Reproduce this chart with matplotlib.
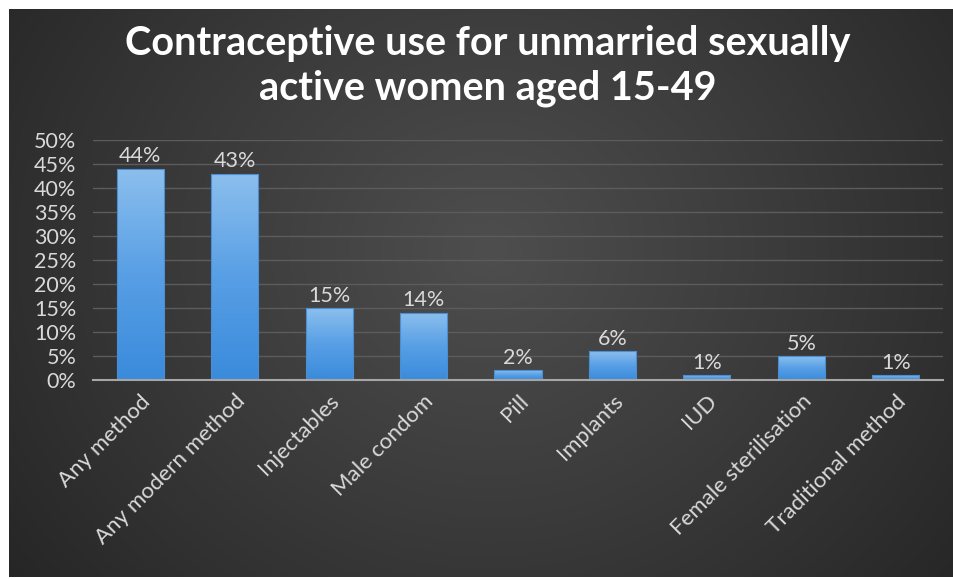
import numpy as np
import matplotlib.pyplot as plt
from matplotlib.colors import LinearSegmentedColormap

# ===== Datos =====
methods = ["Any method", "Any modern method", "Injectables", "Male condom", "Pill",
           "Implants", "IUD", "Female sterilisation", "Traditional method"]
share = [0.44, 0.43, 0.15, 0.14, 0.02, 0.06, 0.01, 0.05, 0.01]
yticks = [0.0, 0.05, 0.10, 0.15, 0.20, 0.25, 0.30, 0.35, 0.40, 0.45, 0.50]
title = "Contraceptive use for unmarried sexually\nactive women aged 15-49"

W, H = 954, 579
plt.rcParams['font.family'] = ['Lato', 'DejaVu Sans']
txt = "#d9d9d9"

fig = plt.figure(figsize=(W / 100, H / 100), dpi=100)
fig.patch.set_facecolor("white")

# ===== Fondo con degradado radial =====
bg = fig.add_axes([0, 0, 1, 1])
bg.set_xlim(0, W); bg.set_ylim(H, 0); bg.axis("off")
yy, xx = np.mgrid[9:577, 9:W]
r = np.hypot((xx - 490) / 1.0, (yy - 250) / 0.9) / 620
r = np.clip(r, 0, 1)
shade = LinearSegmentedColormap.from_list("bg", ["#4e4e4e", "#3a3a3a", "#252525"])
bg.imshow(r, cmap=shade, vmin=0, vmax=1, extent=[9, W, 577, 9], aspect="auto",
          interpolation="bilinear")

fig.text(0.511, 1 - 66 / H, title, ha="center", va="center", color="white",
         fontsize=28.5, fontweight="bold", linespacing=1.22)

# ===== Gráfico de barras =====
ax = fig.add_axes([93 / W, (H - 380) / H, 850 / W, 240 / H])
ax.patch.set_alpha(0)
x = np.arange(len(methods))
bars = ax.bar(x, share, width=0.5, color="none", edgecolor="#4a8fd4", lw=0.8, zorder=3)

# relleno en degradado para cada barra
blue = LinearSegmentedColormap.from_list("bar", ["#3a8bdc", "#589fe5", "#8cbfee"])
grad = np.linspace(0, 1, 256).reshape(-1, 1)
for b in bars:
    x0, y0 = b.get_x(), b.get_y()
    im = ax.imshow(grad, cmap=blue, origin="lower", aspect="auto",
                   extent=[x0, x0 + b.get_width(), y0, y0 + b.get_height()], zorder=2)
    im.set_clip_path(b)
for xi, v in zip(x, share):
    ax.text(xi, v + 0.005, f"{v:.0%}", ha="center", va="bottom", color=txt, fontsize=15.5)

ax.set_xlim(-0.5, len(methods) - 0.5)
ax.set_ylim(0, 0.5)
ax.set_yticks(yticks)
ax.set_yticklabels([f"{t:.0%}" for t in yticks])
ax.yaxis.grid(True, color="#5c5c5c", lw=1, zorder=0)
ax.tick_params(axis="y", length=0, pad=12, labelsize=15.5, labelcolor=txt)
ax.tick_params(axis="x", length=0, pad=8, labelsize=16, labelcolor=txt)
ax.set_xticks(x)
ax.set_xticklabels(methods, rotation=45, ha="right", va="top", rotation_mode="anchor")
for s in ["top", "right", "left"]:
    ax.spines[s].set_visible(False)
ax.spines["bottom"].set_color("#a6a6a6")
ax.spines["bottom"].set_linewidth(1.5)
ax.spines["bottom"].set_zorder(4)

fig.savefig("out.png", dpi=100, facecolor=fig.get_facecolor())
